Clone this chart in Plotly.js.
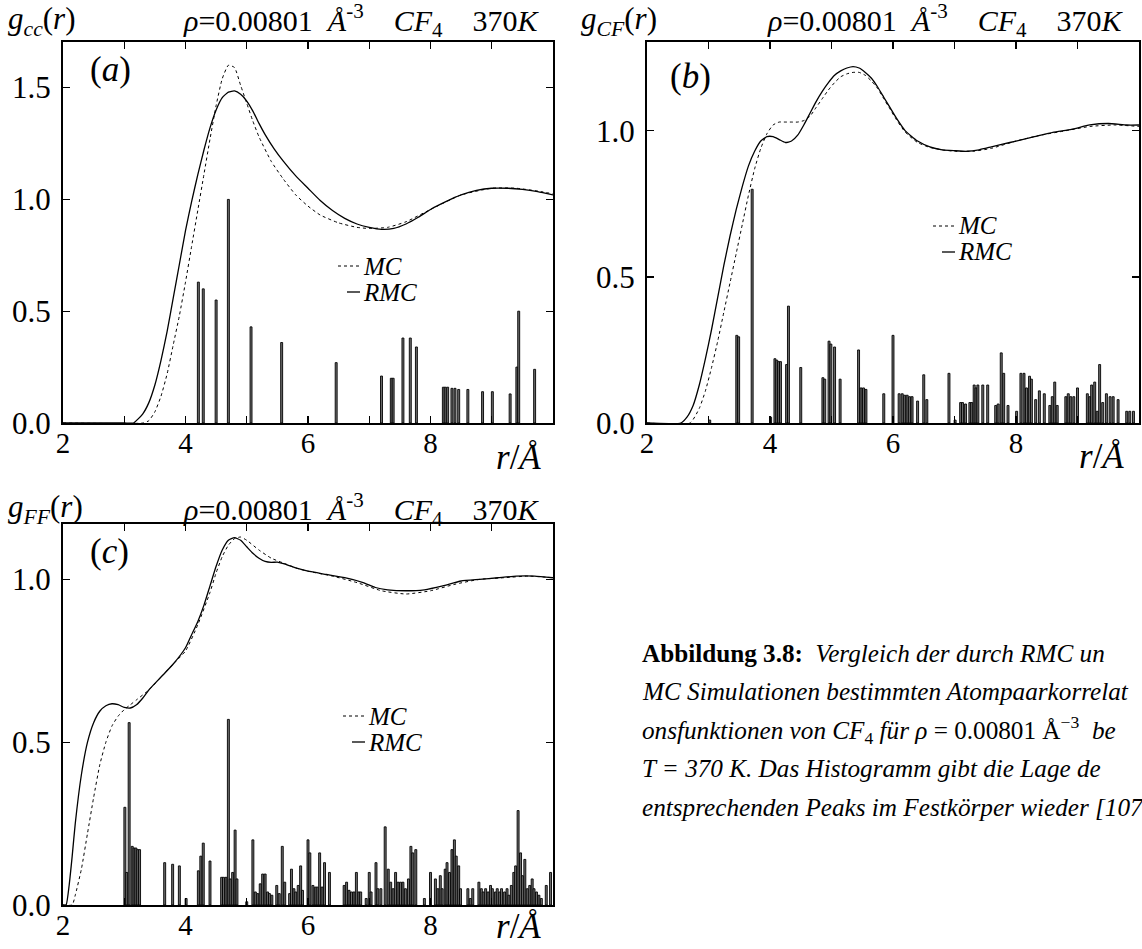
<!DOCTYPE html>
<html>
<head>
<meta charset="utf-8">
<script src="https://cdn.plot.ly/plotly-3.0.1.min.js"></script>
<style>
  html, body { margin: 0; padding: 0; background: #fff; }
  #plot { width: 1142px; height: 949px; }
</style>
</head>
<body>
<div id="plot"></div>
<script>
// ---- g_CC(r): C–C pair correlation ----
const rCC_RMC = [2.0, 3.0, 3.15, 3.3, 3.4, 3.5, 3.6, 3.7, 3.8, 3.9, 4.0, 4.1, 4.2, 4.3, 4.4, 4.5, 4.6, 4.7, 4.8, 4.9, 5.0, 5.1, 5.2, 5.3, 5.45, 5.6, 5.8, 6.0, 6.2, 6.4, 6.6, 6.8, 7.0, 7.2, 7.4, 7.6, 7.8, 8.0, 8.25, 8.5, 8.75, 9.0, 9.25, 9.5, 9.75, 10.0];
const gCC_RMC = [0, 0, 0.0, 0.04, 0.09, 0.17, 0.28, 0.41, 0.56, 0.71, 0.86, 0.99, 1.11, 1.22, 1.32, 1.40, 1.455, 1.48, 1.485, 1.47, 1.44, 1.395, 1.34, 1.29, 1.225, 1.17, 1.105, 1.05, 0.995, 0.95, 0.915, 0.89, 0.875, 0.866, 0.87, 0.89, 0.92, 0.955, 0.99, 1.02, 1.04, 1.05, 1.05, 1.045, 1.035, 1.02];
const rCC_MC = [2.0, 3.3, 3.4, 3.5, 3.6, 3.7, 3.8, 3.9, 4.0, 4.1, 4.2, 4.3, 4.4, 4.5, 4.6, 4.7, 4.8, 4.9, 5.0, 5.1, 5.2, 5.4, 5.6, 5.8, 6.0, 6.2, 6.5, 6.8, 7.0, 7.3, 7.6, 8.0, 8.5, 9.0, 9.4, 9.8, 10.0];
const gCC_MC = [0, 0, 0.01, 0.05, 0.12, 0.22, 0.35, 0.48, 0.63, 0.79, 0.95, 1.11, 1.27, 1.42, 1.54, 1.60, 1.59, 1.51, 1.43, 1.35, 1.28, 1.17, 1.09, 1.02, 0.97, 0.93, 0.895, 0.875, 0.87, 0.875, 0.90, 0.955, 1.02, 1.05, 1.05, 1.035, 1.025];
const peakCC_r = [4.21, 4.29, 4.50, 4.70, 5.07, 5.57, 6.46, 7.20, 7.36, 7.39, 7.55, 7.67, 7.77, 8.21, 8.24, 8.28, 8.35, 8.40, 8.46, 8.61, 8.85, 9.01, 9.30, 9.41, 9.44, 9.70];
const peakCC_h = [0.63, 0.60, 0.55, 1.00, 0.43, 0.36, 0.27, 0.21, 0.20, 0.20, 0.38, 0.38, 0.34, 0.16, 0.16, 0.16, 0.155, 0.155, 0.15, 0.15, 0.14, 0.14, 0.13, 0.25, 0.50, 0.24];

// ---- g_CF(r): C–F pair correlation ----
const rCF_RMC = [2.0, 2.55, 2.65, 2.75, 2.85, 2.95, 3.05, 3.15, 3.25, 3.35, 3.45, 3.55, 3.65, 3.75, 3.85, 3.95, 4.05, 4.15, 4.25, 4.35, 4.45, 4.55, 4.65, 4.75, 4.85, 4.95, 5.05, 5.15, 5.25, 5.35, 5.45, 5.55, 5.65, 5.75, 5.85, 5.95, 6.05, 6.2, 6.4, 6.6, 6.8, 7.0, 7.2, 7.4, 7.6, 7.8, 8.0, 8.3, 8.6, 8.9, 9.2, 9.5, 9.8, 10.0];
const gCF_RMC = [0, 0, 0.02, 0.06, 0.13, 0.22, 0.32, 0.43, 0.54, 0.64, 0.73, 0.81, 0.88, 0.93, 0.965, 0.98, 0.98, 0.97, 0.96, 0.965, 0.985, 1.02, 1.06, 1.10, 1.135, 1.165, 1.19, 1.205, 1.215, 1.22, 1.215, 1.2, 1.18, 1.15, 1.115, 1.08, 1.045, 1.0, 0.965, 0.945, 0.935, 0.932, 0.93, 0.935, 0.945, 0.955, 0.965, 0.98, 0.995, 1.005, 1.02, 1.025, 1.02, 1.02];
const rCF_MC = [2.0, 2.7, 2.85, 2.95, 3.05, 3.15, 3.25, 3.35, 3.45, 3.55, 3.65, 3.75, 3.85, 3.95, 4.05, 4.15, 4.25, 4.35, 4.45, 4.55, 4.65, 4.75, 4.85, 4.95, 5.05, 5.15, 5.25, 5.35, 5.45, 5.55, 5.65, 5.75, 5.85, 5.95, 6.05, 6.2, 6.4, 6.6, 6.8, 7.0, 7.3, 7.6, 8.0, 8.4, 8.8, 9.2, 9.6, 10.0];
const gCF_MC = [0, 0, 0.05, 0.11, 0.19, 0.28, 0.38, 0.48, 0.58, 0.68, 0.78, 0.87, 0.94, 0.99, 1.02, 1.03, 1.03, 1.03, 1.03, 1.035, 1.05, 1.08, 1.11, 1.14, 1.165, 1.185, 1.195, 1.2, 1.2, 1.19, 1.17, 1.145, 1.11, 1.075, 1.04, 0.995, 0.96, 0.943, 0.935, 0.93, 0.93, 0.94, 0.965, 0.985, 1.0, 1.015, 1.02, 1.015];
const peakCF_r = [3.02, 3.46, 3.49, 3.71, 4.01, 4.08, 4.11, 4.14, 4.17, 4.27, 4.30, 4.50, 4.86, 4.89, 4.96, 4.99, 5.05, 5.14, 5.44, 5.48, 5.52, 5.56, 5.85, 6.00, 6.10, 6.15, 6.19, 6.23, 6.27, 6.31, 6.40, 6.50, 6.55, 6.91, 7.01, 7.10, 7.13, 7.18, 7.25, 7.28, 7.32, 7.35, 7.38, 7.46, 7.54, 7.67, 7.71, 7.76, 7.80, 7.87, 8.01, 8.08, 8.13, 8.17, 8.22, 8.25, 8.32, 8.38, 8.46, 8.55, 8.59, 8.63, 8.67, 8.81, 8.85, 8.89, 8.94, 9.00, 9.16, 9.20, 9.23, 9.28, 9.32, 9.36, 9.41, 9.47, 9.53, 9.58, 9.66, 9.80, 9.85, 9.91];
const peakCF_h = [0.01, 0.30, 0.295, 0.80, 0.02, 0.22, 0.215, 0.21, 0.21, 0.20, 0.40, 0.19, 0.155, 0.15, 0.28, 0.27, 0.26, 0.15, 0.25, 0.12, 0.12, 0.115, 0.10, 0.30, 0.10, 0.10, 0.095, 0.095, 0.09, 0.09, 0.075, 0.165, 0.08, 0.17, 0.01, 0.07, 0.07, 0.065, 0.07, 0.07, 0.13, 0.12, 0.13, 0.13, 0.13, 0.06, 0.065, 0.24, 0.17, 0.06, 0.04, 0.17, 0.17, 0.12, 0.16, 0.15, 0.08, 0.11, 0.10, 0.06, 0.09, 0.14, 0.06, 0.09, 0.10, 0.09, 0.09, 0.12, 0.10, 0.09, 0.13, 0.14, 0.04, 0.20, 0.07, 0.10, 0.09, 0.09, 0.08, 0.04, 0.04, 0.04];

// ---- g_FF(r): F–F pair correlation ----
const rFF_RMC = [2.0, 2.05, 2.1, 2.15, 2.2, 2.3, 2.4, 2.5, 2.6, 2.7, 2.8, 2.9, 3.0, 3.1, 3.2, 3.3, 3.4, 3.6, 3.8, 4.0, 4.1, 4.2, 4.3, 4.4, 4.5, 4.6, 4.7, 4.8, 4.9, 5.0, 5.1, 5.2, 5.3, 5.4, 5.5, 5.6, 5.8, 6.0, 6.3, 6.6, 6.9, 7.1, 7.3, 7.6, 7.9, 8.2, 8.5, 8.8, 9.1, 9.4, 9.7, 10.0];
const gFF_RMC = [0, 0, 0.06, 0.15, 0.25, 0.40, 0.50, 0.56, 0.595, 0.612, 0.618, 0.615, 0.607, 0.605, 0.615, 0.635, 0.66, 0.70, 0.74, 0.79, 0.83, 0.87, 0.92, 0.98, 1.04, 1.09, 1.12, 1.128, 1.12, 1.10, 1.08, 1.065, 1.055, 1.052, 1.053, 1.048, 1.035, 1.025, 1.015, 1.005, 0.99, 0.975, 0.968, 0.965, 0.968, 0.98, 0.995, 1.0, 1.005, 1.01, 1.01, 1.005];
const rFF_MC = [2.0, 2.15, 2.2, 2.3, 2.4, 2.5, 2.6, 2.7, 2.8, 2.9, 3.0, 3.1, 3.2, 3.4, 3.6, 3.8, 4.0, 4.2, 4.4, 4.5, 4.6, 4.7, 4.8, 4.9, 5.0, 5.2, 5.4, 5.6, 5.8, 6.0, 6.4, 6.8, 7.2, 7.6, 8.0, 8.4, 8.8, 9.2, 9.6, 10.0];
const gFF_MC = [0, 0, 0.03, 0.11, 0.22, 0.33, 0.43, 0.50, 0.55, 0.58, 0.60, 0.615, 0.63, 0.66, 0.70, 0.74, 0.78, 0.86, 0.96, 1.02, 1.07, 1.105, 1.125, 1.13, 1.12, 1.09, 1.065, 1.05, 1.035, 1.025, 1.01, 0.99, 0.965, 0.955, 0.965, 0.985, 1.0, 1.005, 1.01, 1.005];
const peakFF_r = [3.01, 3.04, 3.08, 3.13, 3.16, 3.19, 3.22, 3.25,
  3.66, 3.79, 3.90, 4.01,
  4.21, 4.25, 4.29, 4.40,
  4.59, 4.62, 4.66, 4.70, 4.73, 4.77, 4.81, 4.84,
  5.00,
  5.10, 5.14, 5.18, 5.22, 5.26, 5.30, 5.34, 5.37, 5.41,
  5.49, 5.53, 5.58, 5.62,
  5.70, 5.73, 5.77, 5.80, 5.84, 5.88, 5.91,
  6.00, 6.03, 6.08, 6.12, 6.15, 6.19, 6.23, 6.27,
  6.35,
  6.59, 6.63, 6.67, 6.71, 6.75, 6.79, 6.83, 6.86,
  6.95, 7.00, 7.03,
  7.11, 7.14, 7.19,
  7.26, 7.31, 7.35, 7.39, 7.43, 7.47, 7.51, 7.55, 7.59, 7.64, 7.68, 7.71, 7.76,
  7.90, 8.00,
  8.08, 8.12, 8.16, 8.19, 8.24, 8.27, 8.31, 8.35, 8.39, 8.42, 8.46, 8.49,
  8.61, 8.65, 8.69,
  8.79, 8.83, 8.86, 8.90, 8.94, 8.98, 9.01, 9.06, 9.09, 9.13, 9.16, 9.21, 9.25, 9.28, 9.32, 9.36, 9.39, 9.43, 9.47, 9.50, 9.54, 9.58, 9.62, 9.66, 9.69, 9.73, 9.77, 9.81,
  9.89, 9.96];
const peakFF_h = [0.30, 0.10, 0.56, 0.18, 0.175, 0.175, 0.17, 0.17,
  0.13, 0.125, 0.12, 0.02,
  0.105, 0.15, 0.19, 0.135,
  0.085, 0.085, 0.085, 0.57, 0.08, 0.10, 0.23, 0.08,
  0.01,
  0.20, 0.04, 0.035, 0.065, 0.095, 0.095, 0.04, 0.035, 0.03,
  0.06, 0.035, 0.18, 0.07,
  0.035, 0.11, 0.05, 0.04, 0.06, 0.12, 0.045,
  0.20, 0.16, 0.06, 0.055, 0.055, 0.16, 0.055, 0.13,
  0.10,
  0.06, 0.07, 0.045, 0.04, 0.04, 0.10, 0.04, 0.04,
  0.02, 0.10, 0.04,
  0.13, 0.05, 0.05,
  0.24, 0.11, 0.07, 0.05, 0.10, 0.07, 0.07, 0.07, 0.05, 0.08, 0.18, 0.16, 0.17,
  0.02, 0.10,
  0.08, 0.05, 0.09, 0.05, 0.11, 0.13, 0.10, 0.17, 0.20, 0.15, 0.12, 0.05,
  0.05, 0.02, 0.05,
  0.07, 0.05, 0.04, 0.05, 0.04, 0.06, 0.05, 0.04, 0.05, 0.04, 0.05, 0.04, 0.05, 0.03, 0.06, 0.10, 0.12, 0.29, 0.16, 0.09, 0.14, 0.05, 0.06, 0.08, 0.05, 0.04, 0.03, 0.02,
  0.06, 0.10];

// tick labels
const rTicks = [2, 4, 6, 8];
const rTickText = ['2', '4', '6', '8'];
const gTicks = [0, 0.5, 1.0, 1.5];
const gTickText = ['0.0', '0.5', '1.0', '1.5'];

const W = 1142, H = 949;
const SERIF = "'Liberation Serif', 'DejaVu Serif', serif";
const px = v => v / W;
const py = v => 1 - v / H;

// panel frames in page pixels: [left, right, top, bottom]
const frames = {
  a: [63, 553, 42, 423],
  b: [647, 1139, 42, 423],
  c: [63, 553, 524, 905]
};
const yMax = { a: 1.704, b: 1.304, c: 1.17 };

const panels = [
  { key: 'a', ax: '', rR: rCC_RMC, gR: gCC_RMC, rM: rCC_MC, gM: gCC_MC, pr: peakCC_r, ph: peakCC_h },
  { key: 'b', ax: '2', rR: rCF_RMC, gR: gCF_RMC, rM: rCF_MC, gM: gCF_MC, pr: peakCF_r, ph: peakCF_h },
  { key: 'c', ax: '3', rR: rFF_RMC, gR: gFF_RMC, rM: rFF_MC, gM: gFF_MC, pr: peakFF_r, ph: peakFF_h }
];

const traces = [];
const layout = {
  width: W, height: H,
  margin: { l: 0, r: 0, t: 0, b: 0 },
  paper_bgcolor: '#fff', plot_bgcolor: '#fff',
  font: { family: SERIF, color: '#000' },
  barmode: 'overlay',
  showlegend: false,
  annotations: [],
  shapes: []
};

panels.forEach(p => {
  const xa = 'x' + p.ax, ya = 'y' + p.ax;
  // solid-state peak histogram
  traces.push({
    type: 'bar', x: p.pr, y: p.ph, xaxis: xa, yaxis: ya,
    width: 0.032,
    marker: { color: '#6e6e6e', line: { color: '#000', width: 0.9 } },
    hoverinfo: 'skip'
  });
  traces.push({
    type: 'scatter', mode: 'lines', x: p.rM, y: p.gM, xaxis: xa, yaxis: ya,
    name: 'MC', line: { color: '#000', width: 1, dash: 'dot', shape: 'spline', smoothing: 0.5 }
  });
  traces.push({
    type: 'scatter', mode: 'lines', x: p.rR, y: p.gR, xaxis: xa, yaxis: ya,
    name: 'RMC', line: { color: '#000', width: 1.3, shape: 'spline', smoothing: 0.5 }
  });

  const f = frames[p.key];
  const common = {
    showline: true, linecolor: '#000', linewidth: 2, mirror: 'allticks',
    ticks: 'inside', ticklen: 7, tickwidth: 1.2, tickcolor: '#000',
    showgrid: false, zeroline: false, fixedrange: true
  };
  layout['xaxis' + p.ax] = Object.assign({}, common, {
    domain: [px(f[0]), px(f[1])], range: [2, 10], anchor: ya,
    tickmode: 'array', tickvals: rTicks, ticktext: rTickText,
    tickfont: { family: SERIF, size: 29, color: '#000' },
    ticklabelstandoff: -7,
    minor: { dtick: 1, tick0: 0, ticks: 'inside', ticklen: 7, tickwidth: 1.2, tickcolor: '#000', showgrid: false }
  });
  layout['yaxis' + p.ax] = Object.assign({}, common, {
    domain: [py(f[3]), py(f[2])], range: [0, yMax[p.key]], anchor: xa,
    tickmode: 'array', tickvals: gTicks, ticktext: gTickText,
    tickfont: { family: SERIF, size: 31, color: '#000' },
    ticklabelstandoff: 4
  });
});

// text helper (page-pixel positions)
const txt = (x, y, text, size, xanchor, yanchor) => ({
  x: px(x), y: py(y), xref: 'paper', yref: 'paper', text: text, showarrow: false,
  xanchor: xanchor || 'left', yanchor: yanchor || 'middle',
  font: { family: SERIF, size: size, color: '#000' }
});

// key: short line sample followed by the series name
const keyPos = { a: [338, 266], b: [933, 226], c: [343, 716] };
Object.keys(keyPos).forEach(k => {
  const [x0, y0] = keyPos[k];
  const y1 = y0 + 26;
  layout.shapes.push(
    { type: 'line', xref: 'paper', yref: 'paper', x0: px(x0), x1: px(x0 + 22), y0: py(y0), y1: py(y0),
      line: { color: '#000', width: 1, dash: 'dot' } },
    { type: 'line', xref: 'paper', yref: 'paper', x0: px(x0 + 9), x1: px(x0 + 22), y0: py(y1), y1: py(y1),
      line: { color: '#000', width: 1.3 } }
  );
  layout.annotations.push(
    txt(x0 + 23, y0, '<i>MC</i>', 25),
    txt(x0 + 23, y1, '<i>RMC</i>', 25)
  );
});

// headers, panel letters and axis units
const S = '\u00A0\u00A0\u00A0\u00A0';
const headTitle = '<i>ρ</i>=0.00801\u00A0\u00A0<i>Å</i><sup>-3</sup>' + S + '<i>CF</i><sub>4</sub>' + S + '370<i>K</i>';
layout.annotations.push(
  txt(6, 21, '<i>g</i><sub><i>cc</i></sub>(<i>r</i>)', 31),
  txt(542, 21, headTitle, 30, 'right'),
  txt(579, 21, '<i>g</i><sub><i>CF</i></sub>(<i>r</i>)', 31),
  txt(1126, 21, headTitle, 30, 'right'),
  txt(6, 509, '<i>g</i><sub><i>FF</i></sub>(<i>r</i>)', 31),
  txt(542, 509, headTitle, 30, 'right'),
  txt(88, 70, '(<i>a</i>)', 35),
  txt(668, 76, '(<i>b</i>)', 35),
  txt(88, 551, '(<i>c</i>)', 35),
  txt(494, 457, '<i>r</i>/<i>Å</i>', 35),
  txt(1077, 456, '<i>r</i>/<i>Å</i>', 35),
  txt(494, 948, '<i>r</i>/<i>Å</i>', 35, 'left', 'bottom')
);

// figure caption, running up to the right edge of the page
const captionLines = [
  '<b>Abbildung 3.8:</b>\u00A0\u00A0<i>Vergleich der durch RMC un</i>',
  '<i>MC Simulationen bestimmten Atompaarkorrelat</i>',
  '<i>onsfunktionen von CF</i><sub>4</sub><i> für ρ</i> = 0.00801 Å<sup>−3</sup>\u00A0\u00A0<i>be</i>',
  '<i>T = 370 K. Das Histogramm gibt die Lage de</i>',
  '<i>entsprechenden Peaks im Festkörper wieder [107</i>'
];
captionLines.forEach((line, i) => {
  layout.annotations.push(txt(640, 653 + 38.5 * i, line, 25.2));
});

Plotly.newPlot('plot', traces, layout, { staticPlot: true, displayModeBar: false });
</script>
</body>
</html>
